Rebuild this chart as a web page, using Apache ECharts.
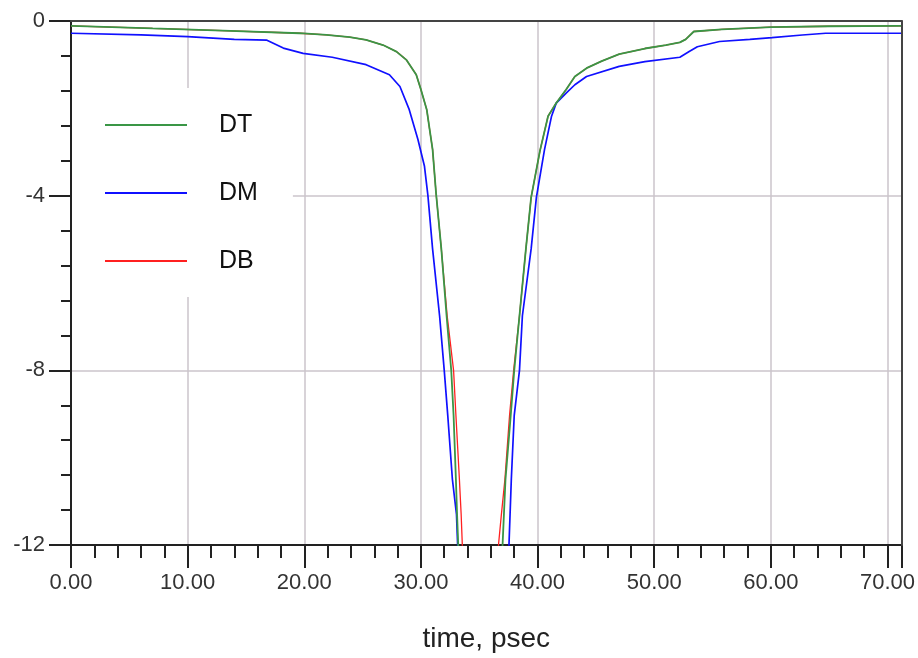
<!DOCTYPE html>
<html>
<head>
<meta charset="utf-8">
<script src="https://cdn.jsdelivr.net/npm/echarts@6/dist/echarts.min.js"></script>
<style>
html,body{margin:0;padding:0;background:#fff;}
#chart{width:918px;height:658px;}
</style>
</head>
<body>
<div id="chart"></div>
<script>
// ---- data (time in psec, value) ----
var dtTime = [0,7,13,19.6,21.9,23.9,25.3,26.75,27.9,28.75,29.6,30.0,30.5,30.75,31.0,31.3,31.75,32.2,32.6,32.8,33.0,33.1,33.2,33.5,35,36.6,37.0,37.25,37.7,38.0,38.45,39.0,39.45,40.2,40.9,41.6,42.45,43.2,44.2,45.5,47.0,49.2,51,52.2,52.7,53.4,55.8,60,65,71.2];
var dtVal  = [-0.11,-0.17,-0.22,-0.28,-0.32,-0.37,-0.43,-0.55,-0.7,-0.89,-1.23,-1.57,-2.03,-2.49,-2.94,-3.95,-5.22,-6.75,-8.0,-9.03,-10.5,-11.3,-12,-14.5,-16,-14.5,-12,-10.5,-9.03,-8.0,-6.75,-5.22,-4.04,-2.98,-2.18,-1.88,-1.57,-1.27,-1.08,-0.92,-0.76,-0.63,-0.55,-0.49,-0.42,-0.24,-0.19,-0.14,-0.12,-0.11];

var dmTime = [0,6,10,14,16.8,18.2,19.9,22.4,25.3,27.3,28.2,29.0,29.75,30.3,30.6,31.0,31.6,32.0,32.3,32.7,33.05,33.15,33.4,35,37.3,37.55,37.75,38.0,38.45,38.7,39.45,39.9,40.6,41.2,41.6,42.45,43.2,44.2,47.0,49.2,52.2,53.0,53.7,55.6,58.2,60.1,62.7,64.7,71.2];
var dmVal  = [-0.28,-0.32,-0.36,-0.42,-0.44,-0.62,-0.74,-0.83,-1.0,-1.23,-1.5,-2.03,-2.72,-3.32,-4.0,-5.22,-6.75,-8.0,-9.03,-10.5,-11.3,-12,-14.5,-16,-14.5,-12,-10.5,-9.03,-8.0,-6.75,-5.22,-4.04,-2.94,-2.18,-1.88,-1.65,-1.46,-1.27,-1.04,-0.93,-0.83,-0.7,-0.59,-0.47,-0.42,-0.38,-0.32,-0.28,-0.28];

var dbTime = [0,7,13,19.6,21.9,23.9,25.3,26.75,27.9,28.75,29.6,30.0,30.5,30.75,31.0,31.3,31.75,32.25,32.8,33.0,33.3,33.45,33.55,33.8,35,36.4,36.65,36.9,37.2,37.6,37.95,38.45,39.0,39.45,40.2,40.9,41.6,42.45,43.2,44.2,45.5,47.0,49.2,51,52.2,52.7,53.4,55.8,60,65,71.2];
var dbVal  = [-0.11,-0.17,-0.22,-0.28,-0.32,-0.37,-0.43,-0.55,-0.7,-0.89,-1.23,-1.57,-2.03,-2.49,-2.94,-3.95,-5.22,-6.75,-8.0,-9.03,-10.5,-11.3,-12,-14.5,-16,-14.5,-12,-11.3,-10.5,-9.03,-8.0,-6.75,-5.22,-4.04,-2.98,-2.18,-1.88,-1.57,-1.27,-1.08,-0.92,-0.76,-0.63,-0.55,-0.49,-0.42,-0.24,-0.19,-0.14,-0.12,-0.11];

var seriesNames = ['DT','DM','DB'];
var xMajorTicks = [0,10,20,30,40,50,60,70,71.2];
var xLabelVals  = [0,10,20,30,40,50,60,70];
var xMinorTicks = [2,4,6,8,12,14,16,18,22,24,26,28,32,34,36,38,42,44,46,48,52,54,56,58,62,64,66,68];
var xMin = 0, xMax = 71.2;
var yMin = -12, yMax = 0, yStep = 4;
var xTitle = 'time, psec';

function zip(a, b){ return a.map(function(t,i){ return [t, b[i]]; }); }

var FONT = 'Liberation Sans, Arial, Helvetica, sans-serif';
var chart = echarts.init(document.getElementById('chart'), null, {renderer:'canvas'});
chart.setOption({
  animation: false,
  backgroundColor: '#fff',
  grid: { left: 71, right: 15.3, top: 21, bottom: 111, containLabel: false },
  legend: {
    data: seriesNames, orient: 'vertical', left: 72, top: 88,
    backgroundColor: '#fff', padding: [22, 35, 21, 33],
    icon: 'rect', itemWidth: 82, itemHeight: 2, itemGap: 38,
    selectedMode: false,
    textStyle: { fontFamily: FONT, fontSize: 25, color: '#111', lineHeight: 30, padding: [0,0,0,27] }
  },
  xAxis: [
    { type: 'value', min: xMin, max: xMax, position: 'bottom',
      name: xTitle, nameLocation: 'middle', nameGap: 80,
      nameTextStyle: { fontFamily: FONT, fontSize: 28, color: '#222' },
      axisLine: { show: true, onZero: false, lineStyle: { color: '#222', width: 2 } },
      axisTick: { show: true, inside: false, length: 23, customValues: xMajorTicks, lineStyle: { color: '#222', width: 2 } },
      axisLabel: { show: true, margin: 27, customValues: xLabelVals, fontFamily: FONT, fontSize: 22, color: '#333',
                   formatter: function(v){ return v.toFixed(2); } },
      splitLine: { show: true, lineStyle: { color: '#cbc5cb', width: 1.5 } }
    },
    { type: 'value', min: xMin, max: xMax, position: 'bottom',
      axisLine: { show: false, onZero: false },
      axisTick: { show: true, inside: false, length: 13, customValues: xMinorTicks, lineStyle: { color: '#222', width: 2 } },
      axisLabel: { show: false }, splitLine: { show: false }
    },
    { type: 'value', min: xMin, max: xMax, position: 'top', z: 5,
      axisLine: { show: true, onZero: false, lineStyle: { color: '#444', width: 2 } },
      axisTick: { show: false }, axisLabel: { show: false }, splitLine: { show: false }
    }
  ],
  yAxis: [
    { type: 'value', min: yMin, max: yMax, interval: yStep, position: 'left',
      axisLine: { show: true, onZero: false, lineStyle: { color: '#222', width: 2 } },
      axisTick: { show: true, inside: false, length: 22, lineStyle: { color: '#222', width: 2 } },
      minorTick: { show: true, splitNumber: 5, length: 10, lineStyle: { color: '#222', width: 2 } },
      axisLabel: { margin: 26, fontFamily: FONT, fontSize: 22, color: '#333' },
      splitLine: { show: true, lineStyle: { color: '#cbc5cb', width: 1.5 } }
    },
    { type: 'value', min: yMin, max: yMax, position: 'right', z: 5,
      axisLine: { show: true, onZero: false, lineStyle: { color: '#444', width: 2 } },
      axisTick: { show: false }, axisLabel: { show: false }, splitLine: { show: false }
    }
  ],
  series: [
    { name: 'DB', type: 'line', xAxisIndex: 0, yAxisIndex: 0, data: zip(dbTime, dbVal), symbol: 'none', showSymbol: false,
      color: '#ff2020', lineStyle: { color: '#ff2020', width: 1.3 }, clip: true, z: 2 },
    { name: 'DM', type: 'line', xAxisIndex: 0, yAxisIndex: 0, data: zip(dmTime, dmVal), symbol: 'none', showSymbol: false,
      color: '#1010ff', lineStyle: { color: '#1010ff', width: 1.7 }, clip: true, z: 3 },
    { name: 'DT', type: 'line', xAxisIndex: 0, yAxisIndex: 0, data: zip(dtTime, dtVal), symbol: 'none', showSymbol: false,
      color: '#3a9646', lineStyle: { color: '#3a9646', width: 1.8 }, clip: true, z: 4 }
  ]
});
</script>
</body>
</html>
